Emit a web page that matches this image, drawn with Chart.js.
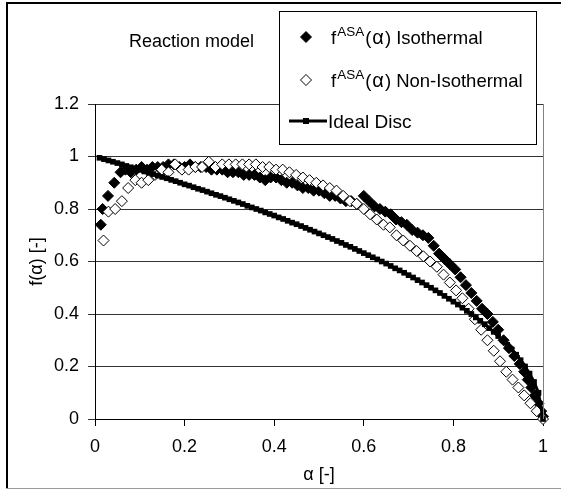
<!DOCTYPE html>
<html>
<head>
<meta charset="utf-8">
<script src="https://cdn.jsdelivr.net/npm/chart.js@4/dist/chart.umd.min.js"></script>
<style>
  html, body { margin: 0; padding: 0; background: #fff; }
  #wrap { width: 561px; height: 490px; }
</style>
</head>
<body>
<div id="wrap"><canvas id="reactionChart" width="561" height="490"></canvas></div>
<script>
// f^ASA(alpha) Isothermal - filled diamonds
const isoAlpha = [0.013, 0.017, 0.029, 0.043, 0.057, 0.068, 0.08, 0.092, 0.104, 0.116, 0.128, 0.14, 0.152, 0.164, 0.176, 0.188,
  0.2, 0.212, 0.224, 0.236, 0.248, 0.26, 0.272, 0.284, 0.296, 0.308, 0.32, 0.332, 0.344, 0.356, 0.368, 0.38,
  0.392, 0.404, 0.416, 0.428, 0.44, 0.452, 0.464, 0.476, 0.488, 0.5, 0.512, 0.524, 0.536, 0.548, 0.56, 0.572,
  0.584, 0.6, 0.612, 0.624, 0.636, 0.648, 0.66, 0.672, 0.684, 0.696, 0.708, 0.72, 0.732, 0.744, 0.756, 0.768,
  0.78, 0.792, 0.804, 0.816, 0.828, 0.84, 0.852, 0.864, 0.876, 0.888, 0.9, 0.912, 0.924, 0.936, 0.948, 0.958,
  0.966, 0.974, 0.982, 0.99, 0.996, 1.0];
const isoF = [0.74, 0.80, 0.85, 0.90, 0.94, 0.95, 0.94, 0.95, 0.96, 0.95, 0.96, 0.96, 0.96, 0.97, 0.97, 0.96,
  0.96, 0.97, 0.96, 0.96, 0.96, 0.95, 0.95, 0.95, 0.94, 0.94, 0.94, 0.93, 0.93, 0.93, 0.92, 0.91,
  0.92, 0.92, 0.91, 0.90, 0.90, 0.89, 0.88, 0.88, 0.87, 0.87, 0.86, 0.85, 0.85, 0.84, 0.83, 0.83,
  0.82, 0.85, 0.83, 0.81, 0.80, 0.79, 0.78, 0.76, 0.75, 0.74, 0.72, 0.71, 0.70, 0.69, 0.66, 0.63,
  0.61, 0.59, 0.57, 0.54, 0.51, 0.48, 0.45, 0.42, 0.40, 0.37, 0.34, 0.30, 0.27, 0.24, 0.21, 0.18,
  0.15, 0.12, 0.09, 0.06, 0.03, 0.01];

// f^ASA(alpha) Non-Isothermal - open diamonds
const nonIsoAlpha = [0.019, 0.03, 0.045, 0.06, 0.074, 0.09, 0.104, 0.119, 0.134, 0.149, 0.164, 0.179, 0.194, 0.209, 0.224, 0.239,
  0.254, 0.269, 0.284, 0.299, 0.314, 0.329, 0.344, 0.359, 0.374, 0.389, 0.404, 0.419, 0.434, 0.449, 0.464, 0.479,
  0.494, 0.509, 0.524, 0.539, 0.554, 0.569, 0.584, 0.6, 0.614, 0.629, 0.644, 0.658, 0.673, 0.688, 0.703, 0.718,
  0.733, 0.748, 0.763, 0.778, 0.792, 0.806, 0.82, 0.834, 0.848, 0.862, 0.876, 0.89, 0.904, 0.918, 0.932, 0.945,
  0.958, 0.972, 0.986, 1.0];
const nonIsoF = [0.68, 0.79, 0.80, 0.83, 0.88, 0.91, 0.90, 0.91, 0.93, 0.95, 0.94, 0.97, 0.95, 0.95, 0.96, 0.96,
  0.98, 0.96, 0.97, 0.97, 0.97, 0.97, 0.97, 0.97, 0.96, 0.96, 0.95, 0.95, 0.94, 0.93, 0.92, 0.91,
  0.90, 0.89, 0.88, 0.87, 0.85, 0.83, 0.82, 0.80, 0.78, 0.76, 0.74, 0.73, 0.70, 0.68, 0.66, 0.64,
  0.62, 0.60, 0.58, 0.55, 0.52, 0.49, 0.46, 0.42, 0.38, 0.34, 0.30, 0.26, 0.22, 0.18, 0.15, 0.12,
  0.09, 0.06, 0.03, 0.00];

// Ideal Disc - line with square markers
const discAlpha = [0.01, 0.02, 0.03, 0.04, 0.05, 0.06, 0.07, 0.08, 0.09, 0.10, 0.11, 0.12, 0.13, 0.14, 0.15, 0.16, 0.17, 0.18, 0.19, 0.20,
  0.21, 0.22, 0.23, 0.24, 0.25, 0.26, 0.27, 0.28, 0.29, 0.30, 0.31, 0.32, 0.33, 0.34, 0.35, 0.36, 0.37, 0.38, 0.39, 0.40,
  0.41, 0.42, 0.43, 0.44, 0.45, 0.46, 0.47, 0.48, 0.49, 0.50, 0.51, 0.52, 0.53, 0.54, 0.55, 0.56, 0.57, 0.58, 0.59, 0.60,
  0.61, 0.62, 0.63, 0.64, 0.65, 0.66, 0.67, 0.68, 0.69, 0.70, 0.71, 0.72, 0.73, 0.74, 0.75, 0.76, 0.77, 0.78, 0.79, 0.80,
  0.81, 0.82, 0.83, 0.84, 0.85, 0.86, 0.87, 0.88, 0.89, 0.90, 0.91, 0.92, 0.93, 0.94, 0.95, 0.96, 0.97, 0.98, 0.99, 1.00];
const discF = [0.995, 0.99, 0.985, 0.98, 0.975, 0.97, 0.964, 0.959, 0.954, 0.949, 0.943, 0.938, 0.933, 0.927, 0.922, 0.917, 0.911, 0.906, 0.90, 0.894,
  0.889, 0.883, 0.877, 0.872, 0.866, 0.86, 0.854, 0.849, 0.843, 0.837, 0.831, 0.825, 0.819, 0.812, 0.806, 0.80, 0.794, 0.787, 0.781, 0.775,
  0.768, 0.762, 0.755, 0.748, 0.742, 0.735, 0.728, 0.721, 0.714, 0.707, 0.70, 0.693, 0.686, 0.678, 0.671, 0.663, 0.656, 0.648, 0.64, 0.632,
  0.624, 0.616, 0.608, 0.60, 0.592, 0.583, 0.574, 0.566, 0.557, 0.548, 0.539, 0.529, 0.52, 0.51, 0.50, 0.49, 0.48, 0.469, 0.458, 0.447,
  0.436, 0.424, 0.412, 0.40, 0.387, 0.374, 0.361, 0.346, 0.332, 0.316, 0.30, 0.283, 0.265, 0.245, 0.224, 0.20, 0.173, 0.141, 0.10, 0.0];

const FONT = '"Liberation Sans", Arial, sans-serif';

function toPoints(xs, ys) {
    return xs.map((x, i) => ({ x: x, y: ys[i] }));
}

// 0 -> "0", 1 -> "1", 0.2 -> "0.2" (no forced decimals)
function tickLabel(v) {
    return String(Math.round(v * 10) / 10);
}

// frame, title and legend drawn by hand (legend needs superscript)
const decorPlugin = {
    id: 'decor',
    beforeDraw(chart) {
        const ctx = chart.ctx;
        ctx.save();
        ctx.fillStyle = '#fff';
        ctx.fillRect(0, 0, chart.width, chart.height);
        ctx.restore();
    },
    afterDraw(chart) {
        const ctx = chart.ctx;
        const a = chart.chartArea;
        ctx.save();

        // right edge of plot area
        ctx.strokeStyle = '#808080';
        ctx.lineWidth = 1;
        ctx.beginPath();
        ctx.moveTo(Math.round(a.right) + 0.5, a.top);
        ctx.lineTo(Math.round(a.right) + 0.5, a.bottom);
        ctx.stroke();

        // outer frame
        ctx.fillStyle = '#000';
        ctx.fillRect(6, 2, chart.width - 6, 2);
        ctx.fillRect(6, 2, 2, 486);
        ctx.fillStyle = '#9a9a9a';
        ctx.fillRect(6, 488, chart.width - 6, 1);

        // title
        ctx.fillStyle = '#000';
        ctx.font = '18px ' + FONT;
        ctx.textBaseline = 'alphabetic';
        ctx.textAlign = 'left';
        ctx.fillText('Reaction model', 129, 47);

        // legend box
        ctx.fillStyle = '#fff';
        ctx.fillRect(279, 11, 258, 134);
        ctx.strokeStyle = '#000';
        ctx.lineWidth = 1;
        ctx.strokeRect(279.5, 11.5, 257, 133);

        const ds = chart.data.datasets;
        // entry 1 and 2: diamonds
        [[0, 37], [1, 80]].forEach(([idx, cy]) => {
            const d = ds[idx];
            ctx.fillStyle = d.pointBackgroundColor;
            ctx.strokeStyle = d.pointBorderColor;
            ctx.lineWidth = 1;
            ctx.beginPath();
            ctx.moveTo(306 - 5.5, cy);
            ctx.lineTo(306, cy - 5.5);
            ctx.lineTo(306 + 5.5, cy);
            ctx.lineTo(306, cy + 5.5);
            ctx.closePath();
            ctx.fill();
            ctx.stroke();

            const base = cy + 7;
            let x = 331;
            ctx.fillStyle = '#000';
            ctx.font = '18.5px ' + FONT;
            ctx.fillText('f', x, base);
            x += ctx.measureText('f').width + 1;
            ctx.font = '13.5px ' + FONT;
            ctx.fillText('ASA', x, base - 8);
            x += ctx.measureText('ASA').width + 1;
            ctx.font = '18.5px ' + FONT;
            ctx.fillText('(', x, base);
            x += ctx.measureText('(').width + 1;
            ctx.font = '20px ' + FONT;
            ctx.fillText('α', x, base);
            x += ctx.measureText('α').width + 1;
            ctx.font = '18.5px ' + FONT;
            ctx.fillText(idx === 0 ? ') Isothermal' : ') Non-Isothermal', x, base);
        });

        // entry 3: line with square
        ctx.strokeStyle = '#000';
        ctx.lineWidth = 3;
        ctx.beginPath();
        ctx.moveTo(289, 121);
        ctx.lineTo(327, 121);
        ctx.stroke();
        ctx.fillStyle = '#000';
        ctx.fillRect(303, 118, 6, 6);
        ctx.font = '19px ' + FONT;
        ctx.fillText('Ideal Disc', 328, 128);

        ctx.restore();
    }
};

const config = {
    type: 'scatter',
    data: {
        datasets: [{
            label: 'fASA(α) Isothermal',
            data: toPoints(isoAlpha, isoF),
            pointStyle: 'rectRot',
            pointRadius: 5.5,
            pointBackgroundColor: '#000',
            pointBorderColor: '#000',
            pointBorderWidth: 1,
            showLine: false,
            clip: false,
            order: 3
        }, {
            label: 'fASA(α) Non-Isothermal',
            data: toPoints(nonIsoAlpha, nonIsoF),
            pointStyle: 'rectRot',
            pointRadius: 5.5,
            pointBackgroundColor: '#fff',
            pointBorderColor: '#000',
            pointBorderWidth: 1,
            showLine: false,
            clip: false,
            order: 2
        }, {
            label: 'Ideal Disc',
            data: toPoints(discAlpha, discF),
            pointStyle: 'rect',
            pointRadius: 4,
            pointBackgroundColor: '#000',
            pointBorderColor: '#000',
            pointBorderWidth: 0,
            borderColor: '#000',
            borderWidth: 3,
            showLine: true,
            clip: false,
            order: 1
        }]
    },
    options: {
        responsive: false,
        animation: false,
        events: [],
        layout: { padding: { left: 8, top: 104, right: 18, bottom: 0 } },
        plugins: {
            legend: { display: false },
            tooltip: { enabled: false },
            title: { display: false }
        },
        scales: {
            x: {
                type: 'linear',
                min: 0,
                max: 1,
                ticks: { stepSize: 0.2, color: '#000', padding: 10, callback: tickLabel, font: { family: FONT, size: 18 } },
                grid: { drawOnChartArea: false, drawTicks: true, tickLength: 7, color: '#000' },
                border: { color: '#000', width: 1 },
                title: { display: true, text: 'α [-]', color: '#000', padding: 4, font: { family: FONT, size: 18 } },
                afterFit: s => { s.height = 71; }
            },
            y: {
                type: 'linear',
                min: 0,
                max: 1.2,
                ticks: { stepSize: 0.2, color: '#000', padding: 9, callback: tickLabel, font: { family: FONT, size: 18 } },
                grid: { drawTicks: true, tickLength: 7, color: '#333' },
                border: { color: '#000', width: 1 },
                title: { display: true, text: 'f(α) [-]', color: '#000', padding: 18, font: { family: FONT, size: 18 } },
                afterFit: s => { s.width = 87; }
            }
        }
    },
    plugins: [decorPlugin]
};

const reactionChart = new Chart(document.getElementById('reactionChart'), config);
</script>
</body>
</html>
